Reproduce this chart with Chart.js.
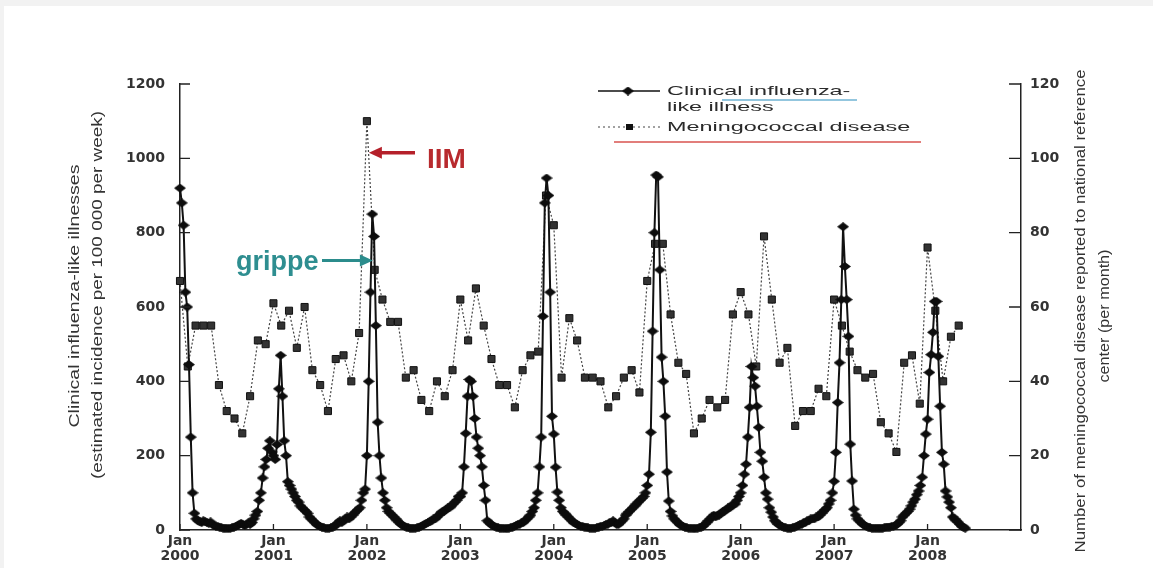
<!DOCTYPE html>
<html>
<head>
<meta charset="utf-8">
<script src="https://cdn.jsdelivr.net/npm/chart.js@4.4.1/dist/chart.umd.min.js"></script>
<style>
html, body { margin: 0; padding: 0; background: #f2f2f2; }
#chart { position: absolute; left: 0; top: 0; }
</style>
</head>
<body>
<canvas id="chart" width="1153" height="568"></canvas>
<script>
// tick labels
const xTickYears = [2000, 2001, 2002, 2003, 2004, 2005, 2006, 2007, 2008];
const leftTicks = [0, 200, 400, 600, 800, 1000, 1200];
const rightTicks = [0, 20, 40, 60, 80, 100, 120];

// clinical influenza-like illness, weekly (week 1 = Jan)
const ili2000 = [920, 880, 820, 640, 600, 445, 250, 100, 45, 30,
  25, 22, 20, 25, 22, 20, 18, 22, 15, 12,
  10, 10, 8, 6, 5, 5, 5, 4, 5, 6,
  8, 10, 12, 15, 18, 15, 12, 15, 20, 15,
  20, 30, 40, 50, 80, 100, 140, 170, 190, 220, 240, 210];
const ili2001 = [200, 190, 230, 380, 470, 360, 240, 200, 130, 120,
  110, 100, 90, 80, 75, 65, 60, 55, 50, 45,
  35, 30, 25, 20, 15, 12, 10, 8, 6, 5,
  5, 5, 6, 8, 10, 15, 20, 25, 20, 25,
  30, 35, 30, 35, 40, 45, 50, 55, 60, 80, 100, 110];
const ili2002 = [200, 400, 640, 850, 790, 550, 290, 200, 140, 100,
  80, 60, 50, 45, 40, 35, 30, 25, 20, 15,
  12, 10, 8, 6, 5, 5, 5, 5, 6, 8,
  10, 12, 15, 18, 20, 22, 25, 30, 30, 35,
  40, 45, 50, 50, 55, 60, 60, 65, 70, 75, 80, 90];
const ili2003 = [90, 100, 170, 260, 360, 405, 400, 360, 300, 250,
  220, 200, 170, 120, 80, 25, 20, 15, 12, 10,
  8, 6, 5, 5, 5, 4, 5, 5, 6, 8,
  10, 12, 15, 15, 20, 20, 25, 30, 35, 40,
  50, 60, 80, 100, 170, 250, 575, 880, 947, 900, 640, 306];
const ili2004 = [258, 169, 102, 80, 60, 50, 45, 40, 35, 30,
  25, 20, 18, 15, 12, 10, 10, 8, 8, 6,
  5, 5, 5, 5, 6, 8, 10, 10, 12, 15,
  15, 20, 20, 25, 20, 15, 15, 20, 25, 30,
  40, 45, 50, 55, 60, 65, 70, 75, 80, 85, 90, 100];
const ili2005 = [120, 150, 263, 535, 800, 955, 950, 700, 465, 400,
  306, 156, 78, 50, 38, 30, 25, 20, 15, 12,
  10, 8, 6, 5, 5, 5, 4, 5, 5, 6,
  8, 10, 15, 20, 25, 30, 35, 40, 35, 40,
  40, 45, 50, 50, 55, 60, 60, 65, 70, 70, 80, 90];
const ili2006 = [100, 120, 150, 177, 250, 330, 440, 410, 387, 333,
  276, 209, 185, 142, 100, 83, 60, 48, 35, 25,
  20, 15, 12, 10, 8, 6, 5, 5, 5, 6,
  8, 10, 12, 15, 15, 20, 20, 25, 25, 30,
  30, 30, 35, 35, 40, 45, 50, 55, 60, 70, 80, 100];
const ili2007 = [131, 209, 343, 450, 620, 816, 709, 620, 521, 231,
  132, 56, 40, 30, 25, 20, 15, 12, 10, 8,
  6, 5, 5, 5, 5, 5, 5, 5, 6, 8,
  8, 8, 10, 10, 12, 15, 20, 25, 35, 40,
  45, 50, 56, 65, 75, 83, 95, 105, 120, 142, 200, 258];
const ili2008 = [298, 424, 472, 532, 615, 615, 467, 333, 209, 177,
  105, 89, 75, 60, 35, 30, 25, 21, 15, 10, 8, 5];

// meningococcal disease, monthly (Jan..Dec)
const men2000 = [67, 44, 55, 55, 55, 39, 32, 30, 26, 36, 51, 50];
const men2001 = [61, 55, 59, 49, 60, 43, 39, 32, 46, 47, 40, 53];
const men2002 = [110, 70, 62, 56, 56, 41, 43, 35, 32, 40, 36, 43];
const men2003 = [62, 51, 65, 55, 46, 39, 39, 33, 43, 47, 48, 90];
const men2004 = [82, 41, 57, 51, 41, 41, 40, 33, 36, 41, 43, 37];
const men2005 = [67, 77, 77, 58, 45, 42, 26, 30, 35, 33, 35, 58];
const men2006 = [64, 58, 44, 79, 62, 45, 49, 28, 32, 32, 38, 36];
const men2007 = [62, 55, 48, 43, 41, 42, 29, 26, 21, 45, 47, 34];
const men2008 = [76, 59, 40, 52, 55];

const iliYears = [ili2000, ili2001, ili2002, ili2003, ili2004, ili2005, ili2006, ili2007, ili2008];
const menYears = [men2000, men2001, men2002, men2003, men2004, men2005, men2006, men2007, men2008];

const iliPoints = [];
iliYears.forEach((arr, k) => arr.forEach((v, w) => iliPoints.push({x: xTickYears[k] + w / 52, y: v})));
const menPoints = [];
menYears.forEach((arr, k) => arr.forEach((v, m) => menPoints.push({x: xTickYears[k] + m / 12, y: v})));

// flat diamond marker
const diamond = document.createElement('canvas');
diamond.width = 12;
diamond.height = 9;
(function () {
  const c = diamond.getContext('2d');
  c.fillStyle = '#0d0d0d';
  c.beginPath();
  c.moveTo(0, 4.5); c.lineTo(6, 0); c.lineTo(12, 4.5); c.lineTo(6, 9);
  c.closePath();
  c.fill();
})();

function stretched(ctx, txt, x, y, sx) {
  ctx.save();
  ctx.translate(x, y);
  ctx.scale(sx, 1);
  ctx.fillText(txt, 0, 0);
  ctx.restore();
}

function vertTitle(ctx, txt, cx, cy, len) {
  ctx.save();
  ctx.translate(cx, cy);
  ctx.rotate(-Math.PI / 2);
  const w = ctx.measureText(txt).width;
  ctx.scale(len / w, 1);
  ctx.textAlign = 'center';
  ctx.textBaseline = 'middle';
  ctx.fillText(txt, 0, 0);
  ctx.restore();
}

function arrow(ctx, x1, y, x2, color, lw) {
  const dir = x2 > x1 ? 1 : -1;
  ctx.save();
  ctx.strokeStyle = color;
  ctx.fillStyle = color;
  ctx.lineWidth = lw;
  ctx.beginPath();
  ctx.moveTo(x1, y);
  ctx.lineTo(x2 - dir * 10, y);
  ctx.stroke();
  ctx.beginPath();
  ctx.moveTo(x2, y);
  ctx.lineTo(x2 - dir * 13, y - 6);
  ctx.lineTo(x2 - dir * 13, y + 6);
  ctx.closePath();
  ctx.fill();
  ctx.restore();
}

const decor = {
  id: 'decor',
  beforeDraw(chart) {
    const ctx = chart.ctx;
    ctx.save();
    ctx.fillStyle = '#f2f2f2';
    ctx.fillRect(0, 0, chart.width, chart.height);
    ctx.fillStyle = '#ffffff';
    ctx.fillRect(4, 6, chart.width - 4, chart.height - 6);
    ctx.restore();
  },
  afterDraw(chart) {
    const {ctx, chartArea: a} = chart;
    const {x, y, y2} = chart.scales;
    ctx.save();

    // inward tick marks
    ctx.strokeStyle = '#222';
    ctx.lineWidth = 1.3;
    ctx.beginPath();
    y.ticks.forEach(t => { const p = y.getPixelForValue(t.value); ctx.moveTo(a.left, p); ctx.lineTo(a.left + 10, p); });
    y2.ticks.forEach(t => { const p = y2.getPixelForValue(t.value); ctx.moveTo(a.right, p); ctx.lineTo(a.right - 12, p); });
    x.ticks.forEach(t => { const p = x.getPixelForValue(t.value); ctx.moveTo(p, a.bottom); ctx.lineTo(p, a.bottom - 6); });
    ctx.stroke();

    // axis titles
    ctx.fillStyle = '#333';
    ctx.font = '15px "Liberation Sans"';
    vertTitle(ctx, 'Clinical influenza-like illnesses', 75, 296, 263);
    vertTitle(ctx, '(estimated incidence per 100 000 per week)', 98, 295, 368);
    vertTitle(ctx, 'Number of meningococcal disease reported to national reference', 1081, 311, 483);
    vertTitle(ctx, 'center (per month)', 1105, 316, 133);

    // legend
    ctx.strokeStyle = '#111';
    ctx.lineWidth = 1.5;
    ctx.beginPath(); ctx.moveTo(598, 91); ctx.lineTo(660, 91); ctx.stroke();
    ctx.drawImage(diamond, 622, 86.5);
    ctx.setLineDash([2, 3]);
    ctx.lineWidth = 1.2;
    ctx.strokeStyle = '#444';
    ctx.beginPath(); ctx.moveTo(598, 127); ctx.lineTo(660, 127); ctx.stroke();
    ctx.setLineDash([]);
    ctx.fillStyle = '#111';
    ctx.fillRect(626, 124, 7, 6);

    ctx.fillStyle = '#2a2a2a';
    ctx.font = '13px "Liberation Sans"';
    ctx.textBaseline = 'middle';
    ctx.textAlign = 'left';
    stretched(ctx, 'Clinical influenza-', 667, 91, 1.8);
    stretched(ctx, 'like illness', 667, 107, 1.8);
    stretched(ctx, 'Meningococcal disease', 667, 127, 1.8);

    ctx.lineWidth = 1.6;
    ctx.strokeStyle = '#6fb3d3';
    ctx.beginPath(); ctx.moveTo(722, 100); ctx.lineTo(857, 100); ctx.stroke();
    ctx.strokeStyle = '#d9534f';
    ctx.beginPath(); ctx.moveTo(614, 142); ctx.lineTo(921, 142); ctx.stroke();

    // annotations
    const px = x.getPixelForValue(2002);
    arrow(ctx, 415, y2.getPixelForValue(101.5), px + 2, '#b5202a', 3.5);
    arrow(ctx, 322, y.getPixelForValue(725), px + 6, '#2b8c8c', 3);
    ctx.textBaseline = 'alphabetic';
    ctx.fillStyle = '#b82a2e';
    ctx.font = 'bold 28px "Liberation Sans"';
    ctx.fillText('IIM', 427, 168);
    ctx.fillStyle = '#2e8e90';
    ctx.font = 'bold 27px "Liberation Sans"';
    ctx.fillText('grippe', 236, 270);

    ctx.restore();
  }
};

const tickFont = {family: 'DejaVu Sans', weight: 'bold', size: 14};

new Chart(document.getElementById('chart'), {
  type: 'line',
  data: {
    datasets: [
      {
        label: 'Clinical influenza-like illness',
        data: iliPoints,
        yAxisID: 'y',
        borderColor: '#111',
        borderWidth: 2,
        pointStyle: diamond,
        tension: 0,
        clip: false
      },
      {
        label: 'Meningococcal disease',
        data: menPoints,
        yAxisID: 'y2',
        borderColor: '#444',
        borderWidth: 1.2,
        borderDash: [2, 2],
        pointStyle: 'rect',
        pointRadius: 5,
        pointBackgroundColor: '#333',
        pointBorderColor: '#111',
        pointBorderWidth: 1,
        tension: 0,
        clip: false
      }
    ]
  },
  options: {
    responsive: false,
    animation: false,
    events: [],
    layout: {padding: {top: 84, left: 0, right: 0, bottom: 0}},
    plugins: {legend: {display: false}, tooltip: {enabled: false}},
    scales: {
      x: {
        type: 'linear',
        min: 2000,
        max: 2009,
        afterBuildTicks: s => { s.ticks = xTickYears.map(v => ({value: v})); },
        afterFit: s => { s.height = 38; },
        grid: {display: false, drawTicks: false},
        border: {display: true, color: '#222', width: 1.5},
        ticks: {
          autoSkip: false,
          maxRotation: 0,
          padding: 4,
          color: '#333',
          font: {...tickFont, lineHeight: 1.05},
          callback: v => ['Jan', String(v)]
        }
      },
      y: {
        position: 'left',
        min: 0,
        max: 1200,
        afterBuildTicks: s => { s.ticks = leftTicks.map(v => ({value: v})); },
        afterFit: s => { s.width = 180; },
        grid: {display: false, drawTicks: false},
        border: {display: true, color: '#222', width: 1.5},
        ticks: {padding: 15, color: '#333', font: tickFont, callback: v => String(v)}
      },
      y2: {
        position: 'right',
        min: 0,
        max: 120,
        afterBuildTicks: s => { s.ticks = rightTicks.map(v => ({value: v})); },
        afterFit: s => { s.width = 132; },
        grid: {display: false, drawTicks: false},
        border: {display: true, color: '#222', width: 1.5},
        ticks: {padding: 9, color: '#333', font: tickFont, callback: v => String(v)}
      }
    }
  },
  plugins: [decor]
});
</script>
</body>
</html>
